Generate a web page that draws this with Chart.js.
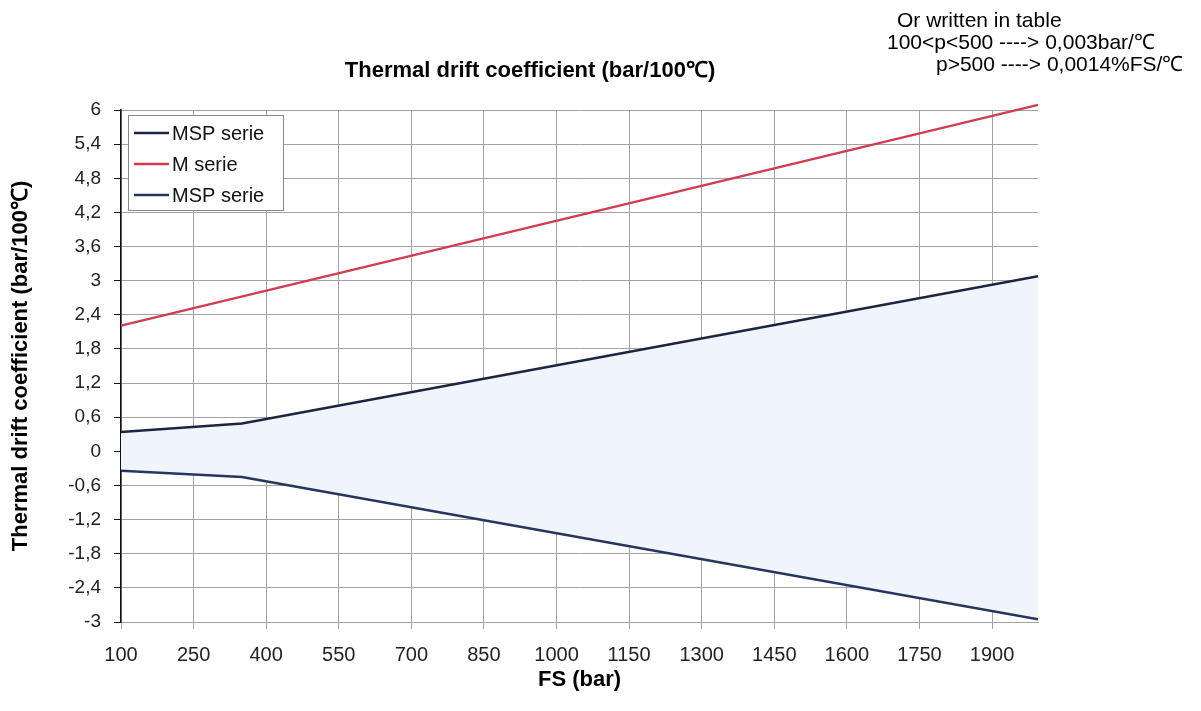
<!DOCTYPE html>
<html>
<head>
<meta charset="utf-8">
<title>Thermal drift coefficient</title>
<script src="https://cdn.jsdelivr.net/npm/chart.js@4.4.1/dist/chart.umd.min.js"></script>
<style>
  html, body { margin: 0; padding: 0; background: #fff; }
  #wrap { width: 1201px; height: 711px; position: relative; }
</style>
</head>
<body>
<div id="wrap"><canvas id="driftChart" width="1201" height="711"></canvas></div>
<script>
// ========================
// Data
// ========================
const seriesNames = ['MSP serie', 'M serie', 'MSP serie'];

const mspUpperFS = [100, 350, 1995];
const mspUpper = [0.34, 0.49, 3.08];

const mSerieFS = [100, 1995];
const mSerie = [2.21, 6.09];

const mspLowerFS = [100, 350, 1995];
const mspLower = [-0.34, -0.45, -2.95];

const xTicks = [100, 250, 400, 550, 700, 850, 1000, 1150, 1300, 1450, 1600, 1750, 1900];
const yTicks = [-3, -2.4, -1.8, -1.2, -0.6, 0, 0.6, 1.2, 1.8, 2.4, 3, 3.6, 4.2, 4.8, 5.4, 6];
const yTickLabels = ['-3', '-2,4', '-1,8', '-1,2', '-0,6', '0', '0,6', '1,2', '1,8', '2,4', '3', '3,6', '4,2', '4,8', '5,4', '6'];

const chartTitle = 'Thermal drift coefficient (bar/100℃)';
const yTitle = 'Thermal drift coefficient (bar/100℃)';
const xTitle = 'FS (bar)';
const noteLines = ['Or written in table', '100<p<500 ----> 0,003bar/℃', 'p>500 ----> 0,0014%FS/℃'];

const toPoints = (xs, ys) => xs.map((x, i) => ({ x: x, y: ys[i] }));

const FONT = "'Liberation Sans', Arial, sans-serif";
const navy = '#1c2442';
const navy2 = '#27355f';
const red = '#d23c50';
const gridGray = '#a3a3a3';

// ========================
// Extra drawing: title, note, legend inside the plot
// ========================
const textPlugin = {
    id: 'textPlugin',
    afterDraw(chart) {
        const ctx = chart.ctx;
        ctx.save();
        ctx.fillStyle = '#000';

        // chart title
        ctx.font = 'bold 22px ' + FONT;
        ctx.textAlign = 'center';
        ctx.textBaseline = 'middle';
        ctx.fillText(chartTitle, 530, 71);

        // note in the top right corner
        ctx.font = '21px ' + FONT;
        ctx.textAlign = 'left';
        ctx.textBaseline = 'alphabetic';
        const noteX = [897, 887, 936];
        const noteY = [27, 49, 71];
        noteLines.forEach((line, i) => ctx.fillText(line, noteX[i], noteY[i]));

        // legend box
        const area = chart.chartArea;
        const bx = area.left + 7, by = area.top + 5, bw = 155, bh = 95;
        ctx.fillStyle = '#fff';
        ctx.fillRect(bx, by, bw, bh);
        ctx.strokeStyle = '#8a8a8a';
        ctx.lineWidth = 1;
        ctx.strokeRect(bx + 0.5, by + 0.5, bw, bh);

        ctx.font = '20px ' + FONT;
        ctx.textBaseline = 'middle';
        chart.data.datasets.forEach((ds, i) => {
            const y = by + 18 + i * 31;
            ctx.strokeStyle = ds.borderColor;
            ctx.lineWidth = 2.5;
            ctx.beginPath();
            ctx.moveTo(bx + 6, y);
            ctx.lineTo(bx + 41, y);
            ctx.stroke();
            ctx.fillStyle = '#111';
            ctx.fillText(ds.label, bx + 44, y + 1);
        });
        ctx.restore();
    }
};

const ctx = document.getElementById('driftChart');

new Chart(ctx, {
    type: 'line',
    data: {
        datasets: [
            {
                label: seriesNames[0],
                data: toPoints(mspUpperFS, mspUpper),
                borderColor: navy,
                backgroundColor: '#f0f5fb',
                borderWidth: 2.5,
                pointRadius: 0,
                fill: 2
            },
            {
                label: seriesNames[1],
                data: toPoints(mSerieFS, mSerie),
                borderColor: red,
                borderWidth: 2.5,
                pointRadius: 0,
                fill: false,
                clip: 8
            },
            {
                label: seriesNames[2],
                data: toPoints(mspLowerFS, mspLower),
                borderColor: navy2,
                borderWidth: 2.5,
                pointRadius: 0,
                fill: false
            }
        ]
    },
    options: {
        responsive: false,
        animation: false,
        layout: {
            padding: { left: 0, right: 163, top: 110, bottom: 18 }
        },
        plugins: {
            legend: { display: false },
            title: { display: false },
            tooltip: { enabled: false },
            filler: { drawTime: 'beforeDatasetsDraw' }
        },
        scales: {
            x: {
                type: 'linear',
                min: 100,
                max: 1995,
                afterBuildTicks: (scale) => {
                    scale.ticks = xTicks.map(v => ({ value: v }));
                },
                afterFit: (scale) => {
                    scale.height = 711 - 622 - 18;
                },
                ticks: {
                    autoSkip: false,
                    maxRotation: 0,
                    padding: 14,
                    color: '#222',
                    font: { family: FONT, size: 20 },
                    callback: (value) => String(value)
                },
                grid: {
                    color: gridGray,
                    tickColor: gridGray,
                    tickLength: 7,
                    lineWidth: 1
                },
                border: { color: gridGray, width: 1 },
                title: {
                    display: true,
                    text: xTitle,
                    color: '#000',
                    padding: 0,
                    font: { family: FONT, size: 22, weight: 'bold' }
                }
            },
            y: {
                type: 'linear',
                min: -3,
                max: 6,
                afterBuildTicks: (scale) => {
                    scale.ticks = yTicks.map(v => ({ value: v }));
                },
                afterFit: (scale) => {
                    scale.width = 121;
                },
                ticks: {
                    autoSkip: false,
                    padding: 13,
                    color: '#222',
                    font: { family: FONT, size: 19 },
                    callback: (value, index) => yTickLabels[index]
                },
                grid: {
                    color: gridGray,
                    tickColor: '#111',
                    tickLength: 7,
                    lineWidth: 1
                },
                border: { color: '#111', width: 1.5 },
                title: {
                    display: true,
                    text: yTitle,
                    color: '#000',
                    padding: { top: 8, bottom: 0 },
                    font: { family: FONT, size: 22, weight: 'bold' }
                }
            }
        }
    },
    plugins: [textPlugin]
});
</script>
</body>
</html>
